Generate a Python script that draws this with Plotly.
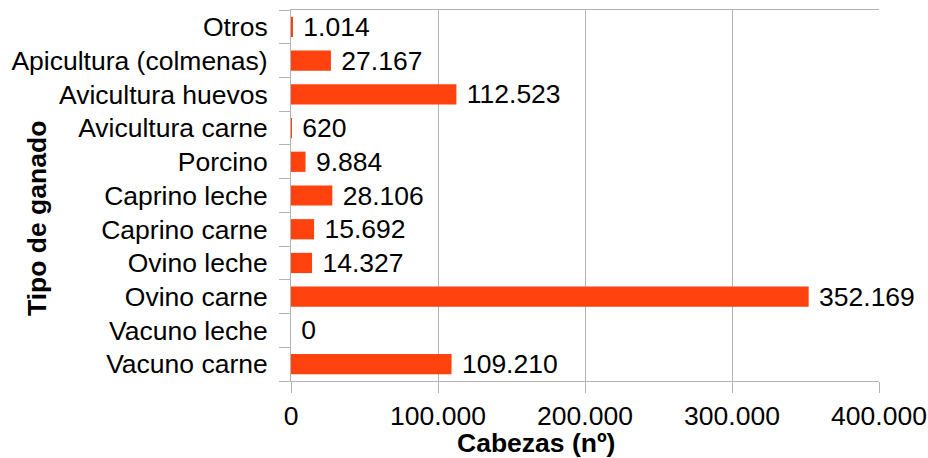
import plotly.graph_objects as go

categories = ["Vacuno carne", "Vacuno leche", "Ovino carne", "Ovino leche", "Caprino carne",
              "Caprino leche", "Porcino", "Avicultura carne", "Avicultura huevos",
              "Apicultura (colmenas)", "Otros"]
values = [109210, 0, 352169, 14327, 15692, 28106, 9884, 620, 112523, 27167, 1014]
tick_vals = [0, 100000, 200000, 300000, 400000]
tick_text = ["0", "100.000", "200.000", "300.000", "400.000"]

def fmt(v):
    return f"{v:,}".replace(",", ".")

labels = ["\u00a0" + fmt(v) for v in values]

FONT = "Liberation Sans, Arial, sans-serif"
GRID = "#b3b3b3"
FS = 26.5

W, H = 928, 458
L, R, T, B = 291, 49, 10, 77

fig = go.Figure(go.Bar(
    y=categories, x=values, orientation="h",
    marker=dict(color="#ff420e", line=dict(width=0)),
    text=labels, textposition="outside", cliponaxis=False,
    constraintext="none",
    textfont=dict(family=FONT, size=FS, color="#000000"),
    width=0.6, hoverinfo="skip",
))

fig.update_layout(
    width=W, height=H,
    margin=dict(l=L, r=R, t=T, b=B, autoexpand=False),
    paper_bgcolor="white", plot_bgcolor="white",
    font=dict(family=FONT, size=FS, color="#000000"),
    showlegend=False,
    annotations=[
        dict(text="<b>Cabezas (nº)</b>", xref="paper", yref="paper",
             x=(536 - L) / (W - L - R), y=-(443 - (H - B)) / (H - T - B),
             xanchor="center", yanchor="middle", showarrow=False,
             font=dict(family=FONT, size=FS, color="#000000")),
        dict(text="<b>Tipo de ganado</b>", xref="paper", yref="paper",
             x=-(L - 37) / (W - L - R), y=1 - (219 - T) / (H - T - B),
             xanchor="center", yanchor="middle", showarrow=False, textangle=-90,
             font=dict(family=FONT, size=FS, color="#000000")),
    ],
)
fig.update_xaxes(
    range=[0, 400000], tickvals=tick_vals, ticktext=tick_text,
    showgrid=True, gridcolor=GRID, gridwidth=1,
    ticks="outside", ticklen=11, tickcolor=GRID,
    showline=True, linecolor=GRID, mirror=True,
    zeroline=False, automargin=False,
    tickfont=dict(family=FONT, size=FS, color="#000000"),
)
fig.update_yaxes(
    categoryorder="array", categoryarray=categories,
    range=[-0.5, 10.5],
    tickson="boundaries", ticks="outside", ticklen=11, tickcolor=GRID,
    ticklabelstandoff=17,
    showline=True, linecolor=GRID, showgrid=False, zeroline=False,
    automargin=False,
    tickfont=dict(family=FONT, size=FS, color="#000000"),
)

fig.write_html("out.html", config={"displayModeBar": False},
               post_script="document.body.style.margin='0';document.body.style.padding='0';")
